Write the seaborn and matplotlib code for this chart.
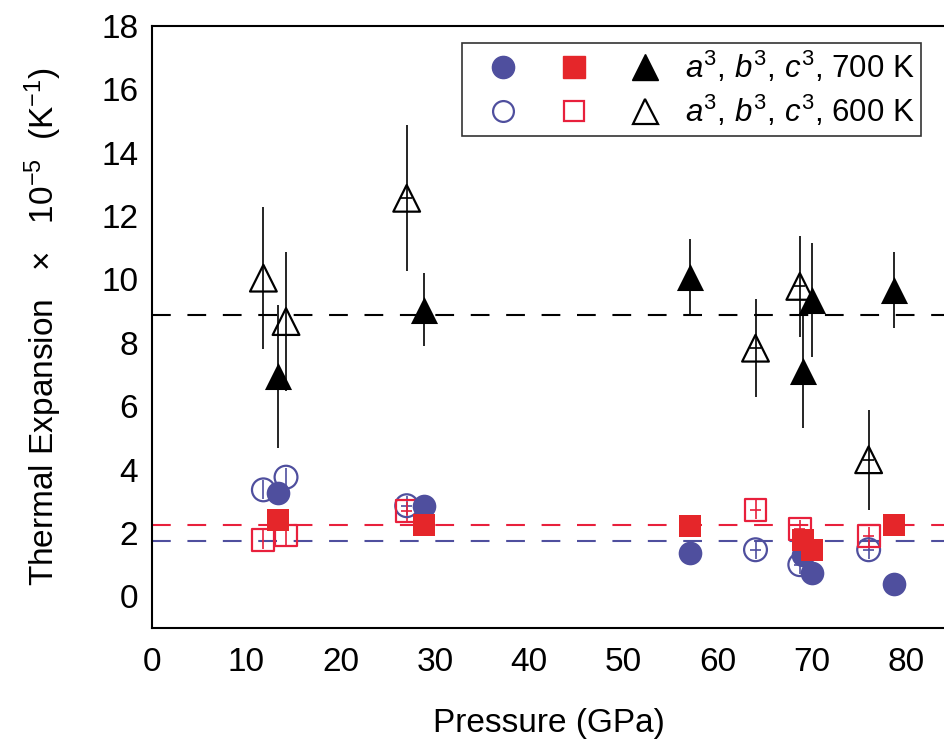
import matplotlib
matplotlib.use("Agg")
import matplotlib.pyplot as plt
import seaborn as sns
from matplotlib.lines import Line2D
from matplotlib.legend_handler import HandlerTuple

# -------------------------------------------------------
# Data (pressure in GPa, expansion in 1e-5 / K)
# -------------------------------------------------------
p700 = [13.4, 28.8, 57.0, 69.0, 70.0, 78.7]
a700 = [3.26, 2.84, 1.37, 1.30, 0.74, 0.40]
b700 = [2.42, 2.24, 2.21, 1.79, 1.47, 2.26]
c700 = [6.94, 9.04, 10.09, 7.10, 9.36, 9.67]
c700_err = [2.25, 1.15, 1.17, 1.80, 1.80, 1.20]

p600 = [11.8, 14.2, 27.0, 64.0, 68.7, 76.0]
a600 = [3.36, 3.76, 2.86, 1.47, 1.00, 1.47]
b600 = [1.79, 1.92, 2.68, 2.73, 2.12, 1.89]
c600 = [10.04, 8.67, 12.56, 7.83, 9.78, 4.31]
c600_err = [2.25, 2.20, 2.30, 1.55, 1.60, 1.58]

ab_err = [0.3, 0.3, 0.3, 0.3, 0.3, 0.3]
p_err = [0.0, 0.0, 0.6, 0.6, 0.6, 0.6]

# average values (dashed lines)
a_mean = 1.76
b_mean = 2.26
c_mean = 8.88

labels = ["$a^3$, $b^3$, $c^3$, 700 K", "$a^3$, $b^3$, $c^3$, 600 K"]

BLUE = "#4f4f9e"
RED = "#e5262a"
RED_OPEN = "#e8203c"

sns.set_style("white")
plt.rcParams["font.family"] = ["Liberation Sans", "DejaVu Sans"]
plt.rcParams["mathtext.fontset"] = "custom"
plt.rcParams["mathtext.rm"] = "Liberation Sans"
plt.rcParams["mathtext.it"] = "Liberation Sans:italic"
plt.rcParams["text.color"] = "black"
plt.rcParams["axes.labelcolor"] = "black"

fig = plt.figure(figsize=(9.45, 7.42), dpi=100)
ax = fig.add_axes([0.161, 0.1536, 0.839, 0.8115])

# dashed average lines
ax.axhline(c_mean, color="black", lw=1.5, ls=(0, (9, 8)), zorder=1)
ax.axhline(b_mean, color=RED_OPEN, lw=1.5, ls=(0, (9, 8)), zorder=1)
ax.axhline(a_mean, color=BLUE, lw=1.5, ls=(0, (9, 8)), zorder=1)

# error bars
ax.errorbar(p700, c700, yerr=c700_err, fmt="none", ecolor="black", elinewidth=1.2, zorder=2)
ax.errorbar(p600, c600, yerr=c600_err, xerr=p_err, fmt="none", ecolor="black", elinewidth=1.2, zorder=2)
ax.errorbar(p600, a600, yerr=ab_err, xerr=p_err, fmt="none", ecolor=BLUE, elinewidth=1.2, zorder=2)
ax.errorbar(p600, b600, yerr=ab_err, xerr=p_err, fmt="none", ecolor=RED_OPEN, elinewidth=1.2, zorder=2)

# 600 K open markers
sns.scatterplot(x=p600, y=a600, marker="o", s=270, facecolors="none", edgecolor=BLUE, linewidth=1.6, ax=ax, zorder=3)
sns.scatterplot(x=p600, y=b600, marker="s", s=250, facecolors="none", edgecolor=RED_OPEN, linewidth=1.6, ax=ax, zorder=3)
sns.scatterplot(x=p600, y=c600, marker="^", s=370, facecolors="none", edgecolor="black", linewidth=1.6, ax=ax, zorder=3)

# 700 K filled markers
sns.scatterplot(x=p700, y=a700, marker="o", s=290, color=BLUE, edgecolor=BLUE, linewidth=0, ax=ax, zorder=4)
sns.scatterplot(x=p700, y=b700, marker="s", s=270, color=RED, edgecolor=RED, linewidth=0, ax=ax, zorder=4)
sns.scatterplot(x=p700, y=c700, marker="^", s=380, color="black", edgecolor="black", linewidth=0, ax=ax, zorder=4)

ax.set_xlim(0, 84.1)
ax.set_ylim(-1, 18)
ax.set_xticks(range(0, 81, 10))
ax.set_yticks(range(0, 19, 2))
ax.tick_params(axis="both", direction="in", width=1.5, labelsize=24, colors="black")
ax.tick_params(axis="x", length=15, pad=14)
ax.tick_params(axis="y", length=14, pad=10)
for side in ["left", "bottom", "top"]:
    ax.spines[side].set_linewidth(1.5)
    ax.spines[side].set_color("black")
ax.spines["right"].set_visible(False)

ax.set_xlabel("Pressure (GPa)", fontsize=24, labelpad=21)
ax.set_ylabel("Thermal Expansion   \u00d7   10$^{-5}$  (K$^{-1}$)", fontsize=24, labelpad=27)

# legend: three markers per row
h700 = (Line2D([], [], marker="o", ls="none", ms=16, color=BLUE),
        Line2D([], [], marker="s", ls="none", ms=15.5, color=RED),
        Line2D([], [], marker="^", ls="none", ms=19, color="black"))
h600 = (Line2D([], [], marker="o", ls="none", ms=15, mfc="none", mec=BLUE, mew=1.6),
        Line2D([], [], marker="s", ls="none", ms=15, mfc="none", mec=RED_OPEN, mew=1.6),
        Line2D([], [], marker="^", ls="none", ms=18, mfc="none", mec="black", mew=1.6))
leg = ax.legend([h700, h600], labels, handler_map={tuple: HandlerTuple(ndivide=None, pad=0)},
                handlelength=6.8, handletextpad=0.15, borderpad=0.2, labelspacing=0.3,
                fontsize=22.5, frameon=True, fancybox=False, loc="upper right",
                bbox_to_anchor=(0.975, 0.942), bbox_transform=fig.transFigure, borderaxespad=0)
leg.get_frame().set_edgecolor("black")
leg.get_frame().set_linewidth(1.2)

plt.savefig("out.png", dpi=100)
plt.close()
